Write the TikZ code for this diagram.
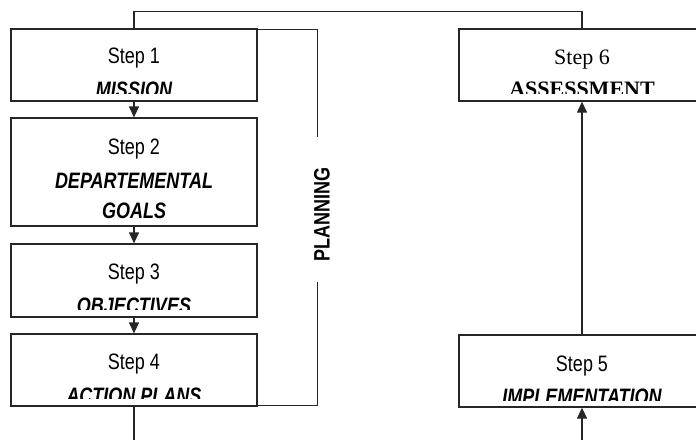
\documentclass[tikz,border=0pt]{standalone}
\usepackage{fontspec}
\usepackage{graphicx}
\setmainfont{Liberation Serif}
\newfontfamily\arialf{Liberation Sans}
\usetikzlibrary{arrows.meta}
\newcommand\tallsans[1]{\scalebox{1}[1.24]{#1}}
\tikzset{
  stepbox/.style={draw=black!85, line width=1.3pt, rectangle, inner sep=0pt, minimum width=246pt},
  lbl/.style={inner sep=0pt, anchor=base},
  sanstxt/.style={lbl, font=\arialf\fontsize{18}{20}\selectfont},
  sanbold/.style={lbl, font=\arialf\bfseries\itshape\fontsize{18}{20}\selectfont},
  serftxt/.style={lbl, font=\fontsize{22}{24}\selectfont},
  serfbold/.style={lbl, font=\bfseries\fontsize{22}{24}\selectfont},
  conn/.style={draw=black!85, line width=1.3pt},
  arr/.style={conn, -{Triangle[width=10pt,length=11pt]}}
}
\begin{document}
\begin{tikzpicture}[x=1pt,y=-1pt]
\useasboundingbox (0,0) rectangle (696,440);
% boxes
\node[stepbox, minimum height=72pt] (s1) at (134,65) {};
\node[stepbox, minimum height=108pt] (s2) at (134,172) {};
\node[stepbox, minimum height=73pt] (s3) at (134,280.5) {};
\node[stepbox, minimum height=72pt] (s4) at (134,370) {};
\node[stepbox, minimum height=72pt] (s5) at (582,371) {};
\node[stepbox, minimum height=72pt] (s6) at (582,65) {};
% texts
\node[sanstxt] (t1a) at (134,63) {\tallsans{Step 1}};
\begin{scope}
\clip (11,29) rectangle (257,93.5);
\node[sanbold] (t1b) at (134,97) {\tallsans{MISSION}};
\end{scope}
\node[sanstxt] (t2a) at (134,154) {\tallsans{Step 2}};
\node[sanbold] (t2b) at (134,188) {\tallsans{DEPARTEMENTAL}};
\node[sanbold] (t2c) at (134,218.5) {\tallsans{GOALS}};
\node[sanstxt] (t3a) at (134,279) {\tallsans{Step 3}};
\begin{scope}
\clip (11,244) rectangle (257,309);
\node[sanbold] (t3b) at (134,313) {\tallsans{OBJECTIVES}};
\end{scope}
\node[sanstxt] (t4a) at (134,369) {\tallsans{Step 4}};
\begin{scope}
\clip (11,334) rectangle (257,398.5);
\node[sanbold] (t4b) at (134,403) {\tallsans{ACTION PLANS}};
\end{scope}
\node[sanstxt] (t5a) at (582,371) {\tallsans{Step 5}};
\begin{scope}
\clip (460,335) rectangle (704,400.5);
\node[sanbold] (t5b) at (582,404) {\tallsans{IMPLEMENTATION}};
\end{scope}
\node[serftxt] (t6a) at (582,64) {Step 6};
\begin{scope}
\clip (460,29) rectangle (704,93);
\node[serfbold] (t6b) at (582,96.5) {ASSESSMENT};
\end{scope}
% planning label
\node[inner sep=0pt, rotate=90, font=\arialf\bfseries\fontsize{18}{20}\selectfont] (plan) at (322,214) {\tallsans{PLANNING}};
\coordinate (pt) at (317.5,137);
\coordinate (pb) at (317.5,282);
\coordinate (b4) at (134,440);
\coordinate (b5) at (582,440);
% connectors
\draw[arr] (s1.south) -- (s2.north);
\draw[arr] (s2.south) -- (s3.north);
\draw[arr] (s3.south) -- (s4.north);
\draw[conn] (s4.south) -- (b4);
\draw[arr] (b5) -- (s5.south);
\draw[arr] (s5.north) -- (s6.south);
\draw[conn] (s1.north) -- ++(0,-17) -| (s6.north);
\draw[conn] ([yshift=-1pt]s1.north east) -| (pt);
\draw[conn] (pb) |- ([yshift=1pt]s4.south east);
\end{tikzpicture}
\end{document}
